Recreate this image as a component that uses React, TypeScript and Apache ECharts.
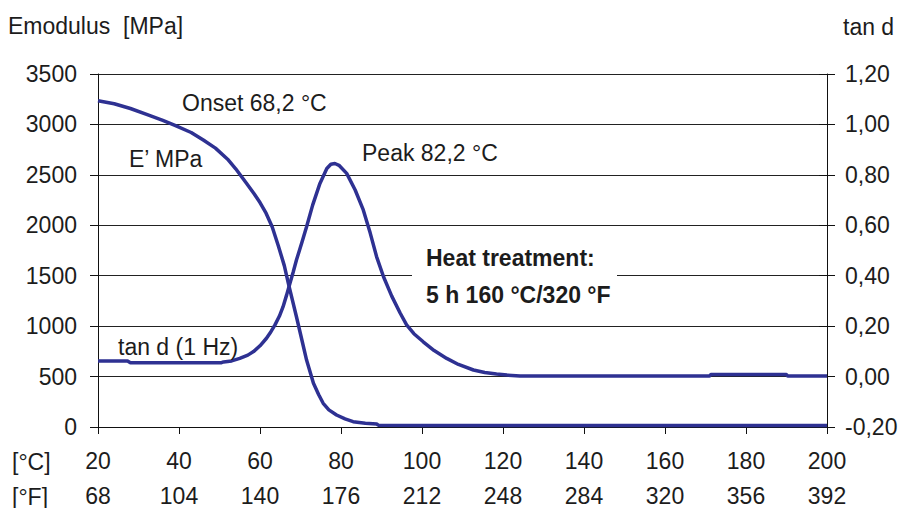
import React, { useEffect, useRef } from "react";
import * as echarts from "echarts";

// Temperature in °C vs storage modulus E' (MPa)
const eModulus: [number, number][] = [
  [20, 3235], [24, 3205], [28, 3158], [32, 3100], [36, 3040], [39, 2990], [43, 2920],
  [46, 2845], [49, 2765], [52, 2655], [54, 2560], [56.7, 2415], [58.5, 2315], [60, 2225],
  [61.5, 2120], [63, 1985], [64.5, 1800], [66, 1600], [67, 1424], [69, 1093], [70.3, 870],
  [71.5, 664], [73.2, 433], [74.5, 320], [75.6, 235], [77, 170], [78.9, 119], [81, 80],
  [83, 53], [86, 38], [88.8, 30], [89.2, 18], [100, 16], [140, 16], [200, 16],
];

// Temperature in °C vs tan d (1 Hz)
const tanD: [number, number][] = [
  [20, 0.062], [27.3, 0.062], [28, 0.055], [40, 0.055], [50.5, 0.055], [51, 0.058],
  [53, 0.062], [55, 0.072], [57, 0.085], [58.4, 0.099], [60, 0.122], [61.6, 0.152],
  [62.7, 0.178], [63.7, 0.205], [64.8, 0.24], [65.7, 0.277], [66.6, 0.325], [67.4, 0.37],
  [68.2, 0.415], [69, 0.462], [70.3, 0.53], [71.5, 0.594], [73, 0.68], [74.8, 0.766],
  [76.5, 0.825], [77.5, 0.842], [78.5, 0.845], [79.5, 0.838], [81.4, 0.806], [83.5, 0.74],
  [85.5, 0.661], [87.2, 0.57], [88.8, 0.475], [90.5, 0.396], [92.5, 0.32], [94.6, 0.252],
  [96.2, 0.205], [98, 0.17], [100.3, 0.138], [103, 0.103], [106.1, 0.072], [109, 0.048],
  [112.7, 0.026], [115.5, 0.016], [118.4, 0.01], [121, 0.006], [124.2, 0.002], [171, 0.002],
  [171.3, 0.008], [190, 0.008], [190.3, 0.002], [200, 0.002],
];

const celsiusTicks = ["20", "40", "60", "80", "100", "120", "140", "160", "180", "200"];
const fahrenheitTicks = ["68", "104", "140", "176", "212", "248", "284", "320", "356", "392"];
const leftTicks = ["0", "500", "1000", "1500", "2000", "2500", "3000", "3500"];
const rightTicks = ["-0,20", "0,00", "0,20", "0,40", "0,60", "0,80", "1,00", "1,20"];

const FONT = "'Liberation Sans', Arial, Helvetica, sans-serif";
const TXT = "#1c1c1c";
const LINE = "#2e3192";
const FS = 23;

function txt(text: string, x: number, y: number, bold = false, z = 10) {
  return {
    type: "text",
    x,
    y,
    z,
    style: {
      text,
      fill: TXT,
      font: `${bold ? "bold " : ""}${FS}px ${FONT}`,
      align: "left",
      verticalAlign: "middle",
      textAlign: "left",
      textVerticalAlign: "middle",
    },
  };
}

export default function App() {
  const ref = useRef<HTMLDivElement>(null);
  useEffect(() => {
    document.body.style.margin = "0";
    if (!ref.current) return;
    const chart = echarts.init(ref.current, undefined, { renderer: "svg" });
    const idxX = (v: number) => Math.round((v - 20) / 20);
    chart.setOption({
      animation: false,
      backgroundColor: "#ffffff",
      grid: { left: 98, right: 76, top: 74, bottom: 81, containLabel: false },
      xAxis: [
        {
          type: "value",
          min: 20,
          max: 200,
          interval: 20,
          position: "bottom",
          axisLine: { show: true, lineStyle: { color: "#111", width: 1 } },
          axisTick: { show: true, length: 7, lineStyle: { color: "#111" } },
          splitLine: { show: false },
          axisLabel: {
            margin: 22,
            fontSize: FS,
            fontFamily: FONT,
            color: TXT,
            formatter: (v: number) => celsiusTicks[idxX(v)] ?? "",
          },
        },
        {
          type: "value",
          min: 20,
          max: 200,
          interval: 20,
          position: "bottom",
          offset: 35,
          axisLine: { show: false },
          axisTick: { show: false },
          splitLine: { show: false },
          axisLabel: {
            margin: 22,
            fontSize: FS,
            fontFamily: FONT,
            color: TXT,
            formatter: (v: number) => fahrenheitTicks[idxX(v)] ?? "",
          },
        },
      ],
      yAxis: [
        {
          type: "value",
          min: 0,
          max: 3500,
          interval: 500,
          position: "left",
          axisLine: { show: true, lineStyle: { color: "#111", width: 1 } },
          axisTick: { show: true, length: 8, lineStyle: { color: "#111" } },
          splitLine: { show: true, lineStyle: { color: "#222", width: 1 } },
          axisLabel: {
            margin: 21,
            fontSize: FS,
            fontFamily: FONT,
            color: TXT,
            formatter: (v: number) => leftTicks[Math.round(v / 500)] ?? "",
          },
        },
        {
          type: "value",
          min: -0.2,
          max: 1.2,
          interval: 0.2,
          position: "right",
          axisLine: { show: true, lineStyle: { color: "#111", width: 1 } },
          axisTick: { show: true, length: 8, lineStyle: { color: "#111" } },
          splitLine: { show: false },
          axisLabel: {
            margin: 18,
            fontSize: FS,
            fontFamily: FONT,
            color: TXT,
            formatter: (v: number) => rightTicks[Math.round((v + 0.2) / 0.2)] ?? "",
          },
        },
        {
          type: "value",
          min: -0.2,
          max: 1.2,
          interval: 0.2,
          position: "right",
          axisLine: { show: false },
          axisTick: { show: true, inside: true, length: 8, lineStyle: { color: "#111" } },
          splitLine: { show: false },
          axisLabel: { show: false },
        },
      ],
      graphic: [
        {
          type: "rect",
          z: 1,
          shape: { x: 412, y: 240, width: 205, height: 70 },
          style: { fill: "#ffffff" },
        },
        txt("Emodulus  [MPa]", 8, 26),
        txt("tan d", 843, 27),
        txt("Onset 68,2 °C", 182, 103),
        txt("E’ MPa", 129, 158.5),
        txt("Peak 82,2 °C", 362, 152.5),
        txt("Heat treatment:", 426, 258, true),
        txt("5 h 160 °C/320 °F", 426, 295, true),
        txt("tan d (1 Hz)", 118, 346.5),
        txt("[°C]", 12, 461.5),
        txt("[°F]", 12, 496.5),
      ],
      series: [
        {
          name: "E' MPa",
          type: "line",
          xAxisIndex: 0,
          yAxisIndex: 0,
          data: eModulus,
          showSymbol: false,
          symbol: "none",
          lineStyle: { color: LINE, width: 3.5 },
          z: 3,
        },
        {
          name: "tan d",
          type: "line",
          xAxisIndex: 0,
          yAxisIndex: 1,
          data: tanD,
          showSymbol: false,
          symbol: "none",
          lineStyle: { color: LINE, width: 3.5 },
          z: 3,
        },
      ],
    });
    return () => chart.dispose();
  }, []);
  return <div ref={ref} style={{ width: 903, height: 508 }} />;
}
